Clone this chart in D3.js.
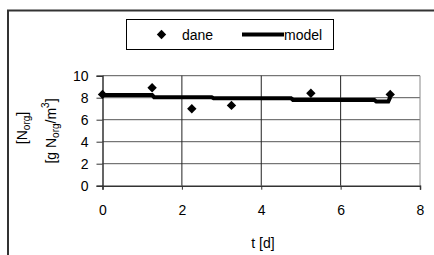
<!DOCTYPE html>
<html lang="pl">
<head>
<meta charset="UTF-8">
<title>Norg</title>
<script src="https://d3js.org/d3.v7.min.js"></script>
<style>
  body { margin: 0; background: #fff; }
  text { font-family: "Liberation Sans", Arial, sans-serif; fill: #000; }
</style>
</head>
<body>
<svg width="434" height="255"></svg>
<script>
// pomiary
var tData = [0, 1.25, 2.25, 3.25, 5.25, 7.25];
var nData = [8.3, 8.9, 7.0, 7.3, 8.4, 8.3];

// model (schodkowy)
var tModel = [0, 1.25, 1.3, 2.75, 2.8, 4.75, 4.8, 6.85, 6.9, 7.2, 7.25];
var nModel = [8.25, 8.25, 8.05, 8.05, 7.95, 7.95, 7.8, 7.8, 7.65, 7.65, 8.05];

var xTicks = [0, 2, 4, 6, 8];
var yTicks = [0, 2, 4, 6, 8, 10];

var svg = d3.select("svg");

// ramka wykresu
svg.append("rect")
    .attr("x", 8).attr("y", 10.5)
    .attr("width", 440).attr("height", 260)
    .attr("fill", "none").attr("stroke", "#333").attr("stroke-width", 2);

var x = d3.scaleLinear().domain([0, 8]).range([102.5, 420]);
var y = d3.scaleLinear().domain([0, 10]).range([185.7, 75.7]);

// siatka
svg.append("g").selectAll("line")
    .data(yTicks.filter(function(d) { return d > 0; }))
    .enter().append("line")
    .attr("x1", x(0)).attr("x2", x(8))
    .attr("y1", function(d) { return y(d); })
    .attr("y2", function(d) { return y(d); })
    .attr("stroke", "#555").attr("stroke-width", 1);

svg.append("g").selectAll("line")
    .data(xTicks.filter(function(d) { return d > 0; }))
    .enter().append("line")
    .attr("x1", function(d) { return x(d); })
    .attr("x2", function(d) { return x(d); })
    .attr("y1", y(0)).attr("y2", y(10))
    .attr("stroke", function(d) { return d == 8 ? "#888" : "#222"; })
    .attr("stroke-width", 1);

// osie
var xAxis = svg.append("g")
    .attr("transform", "translate(0," + y(0) + ")")
    .call(d3.axisBottom(x).tickValues(xTicks).tickSize(4).tickPadding(15));
var yAxis = svg.append("g")
    .attr("transform", "translate(" + x(0) + ",0)")
    .call(d3.axisLeft(y).tickValues(yTicks).tickSize(6).tickPadding(8));

[xAxis, yAxis].forEach(function(a) {
    a.select(".domain").attr("stroke", "#333").attr("stroke-width", 1.5);
    a.selectAll(".tick line").attr("stroke", "#333");
    a.selectAll("text").style("font-size", "14px")
        .style("font-family", "'Liberation Sans', Arial, sans-serif").attr("fill", "#000");
});

// linia modelu
var modelData = tModel.map(function(t, i) { return [t, nModel[i]]; });
svg.append("path")
    .datum(modelData)
    .attr("fill", "none")
    .attr("stroke", "#000")
    .attr("stroke-width", 4)
    .attr("d", d3.line()
        .x(function(d) { return x(d[0]); })
        .y(function(d) { return y(d[1]); }));

// punkty pomiarowe
var diamond = d3.symbol().type(d3.symbolSquare).size(44);
svg.append("g").selectAll("path")
    .data(tData)
    .enter().append("path")
    .attr("d", diamond)
    .attr("transform", function(d, i) {
        return "translate(" + x(d) + "," + y(nData[i]) + ") rotate(45)";
    })
    .attr("fill", "#000");

// opis osi X
svg.append("text")
    .attr("x", 263).attr("y", 248)
    .attr("text-anchor", "middle")
    .style("font-size", "14px")
    .text("t [d]");

// opis osi Y (dwie linie)
var yl1 = svg.append("text")
    .attr("transform", "translate(27,128) rotate(-90)")
    .attr("text-anchor", "middle")
    .style("font-size", "14px");
yl1.append("tspan").text("[N");
yl1.append("tspan").attr("dy", 3).style("font-size", "10px").text("org");
yl1.append("tspan").attr("dy", -3).text("]");

var yl2 = svg.append("text")
    .attr("transform", "translate(56,131) rotate(-90)")
    .attr("text-anchor", "middle")
    .style("font-size", "14px");
yl2.append("tspan").text("[g N");
yl2.append("tspan").attr("dy", 3).style("font-size", "10px").text("org");
yl2.append("tspan").attr("dy", -3).text("/m");
yl2.append("tspan").attr("dy", -7).style("font-size", "10px").text("3");
yl2.append("tspan").attr("dy", 7).text("]");

// legenda
var leg = svg.append("g");
leg.append("rect")
    .attr("x", 126.5).attr("y", 19.5)
    .attr("width", 207).attr("height", 30)
    .attr("fill", "#fff").attr("stroke", "#000").attr("stroke-width", 1);
leg.append("path")
    .attr("d", diamond)
    .attr("transform", "translate(161.5,34.5) rotate(45)")
    .attr("fill", "#000");
leg.append("text")
    .attr("x", 182).attr("y", 39.5)
    .style("font-size", "14px")
    .text("dane");
leg.append("line")
    .attr("x1", 242).attr("x2", 284)
    .attr("y1", 34.5).attr("y2", 34.5)
    .attr("stroke", "#000").attr("stroke-width", 4);
leg.append("text")
    .attr("x", 284).attr("y", 39.5)
    .style("font-size", "14px")
    .text("model");
</script>
</body>
</html>
